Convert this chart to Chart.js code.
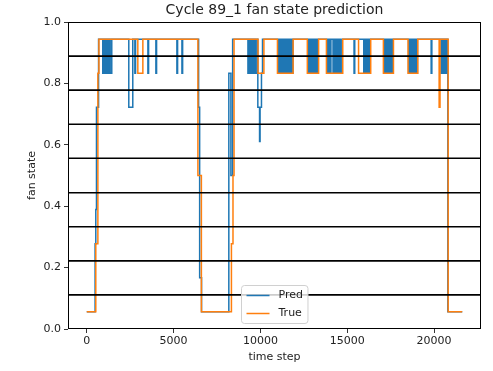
<!DOCTYPE html>
<html>
<head>
<meta charset="utf-8">
<script src="https://cdn.jsdelivr.net/npm/chart.js@4"></script>
<style>
  html, body { margin: 0; padding: 0; background: #fff; }
  #wrap { width: 493px; height: 371px; }
</style>
</head>
<body>
<div id="wrap"><canvas id="fanChart" width="493" height="371"></canvas></div>
<script>
// fan state levels (bin centres)
// [time step, state] -- value changes at that time step
var trueSteps = [
  [0, 0.056], [520, 0.278], [640, 0.833], [700, 0.944],
  [2940, 0.833], [3230, 0.944],
  [6400, 0.5], [6600, 0.056],
  [8330, 0.278], [8420, 0.5], [8480, 0.944],
  [9860, 0.833], [10200, 0.944],
  [10980, 0.833], [11880, 0.944],
  [12700, 0.833], [13350, 0.944],
  [13800, 0.833], [14740, 0.944],
  [15650, 0.833], [16350, 0.944],
  [17080, 0.833], [17660, 0.944],
  [18500, 0.833], [19060, 0.944],
  [20290, 0.722], [20340, 0.944],
  [20810, 0.056], [21620, 0.056]
];

var predSteps = [
  [0, 0.056], [480, 0.278], [520, 0.389], [560, 0.722], [680, 0.944],
  [920, 0.833], [975, 0.944], [1030, 0.833], [1080, 0.944], [1135, 0.833],
  [1190, 0.944], [1240, 0.833], [1295, 0.944], [1350, 0.833], [1440, 0.944],
  [2420, 0.722], [2650, 0.944], [2770, 0.833], [2810, 0.944],
  [3520, 0.833], [3560, 0.944], [3980, 0.833], [4020, 0.944],
  [5190, 0.833], [5230, 0.944], [5480, 0.833], [5520, 0.944],
  [6440, 0.722], [6500, 0.167], [6610, 0.056],
  [8180, 0.833], [8300, 0.5], [8400, 0.944],
  [9280, 0.833], [9335, 0.944], [9390, 0.833], [9440, 0.944], [9495, 0.833],
  [9550, 0.944], [9600, 0.833], [9655, 0.944], [9710, 0.833], [9800, 0.944],
  [9850, 0.722], [9950, 0.611], [9980, 0.722], [10060, 0.833], [10120, 0.944],
  [11010, 0.833], [11065, 0.944], [11120, 0.833], [11170, 0.944], [11225, 0.833],
  [11280, 0.944], [11330, 0.833], [11385, 0.944], [11420, 0.833], [11470, 0.944],
  [11530, 0.833], [11585, 0.944], [11640, 0.833], [11690, 0.944], [11745, 0.833],
  [11800, 0.944], [11830, 0.833], [11870, 0.944],
  [12740, 0.833], [12795, 0.944], [12850, 0.833], [12900, 0.944], [12930, 0.833], [12970, 0.944],
  [13030, 0.833], [13085, 0.944], [13140, 0.833], [13195, 0.944], [13250, 0.833], [13310, 0.944],
  [13830, 0.833], [13885, 0.944], [13940, 0.833], [13995, 0.944], [14030, 0.833], [14060, 0.944],
  [14180, 0.833], [14235, 0.944], [14290, 0.833], [14340, 0.944], [14395, 0.833],
  [14450, 0.944], [14500, 0.833], [14555, 0.944], [14610, 0.833], [14700, 0.944],
  [15390, 0.833], [15430, 0.944],
  [15950, 0.833], [16005, 0.944], [16060, 0.833], [16115, 0.944], [16170, 0.833],
  [16225, 0.944], [16260, 0.833], [16300, 0.944],
  [17120, 0.833], [17175, 0.944], [17230, 0.833], [17285, 0.944], [17340, 0.833],
  [17395, 0.944], [17450, 0.833], [17505, 0.944], [17560, 0.833], [17640, 0.944],
  [18530, 0.833], [18585, 0.944], [18640, 0.833], [18695, 0.944], [18750, 0.833],
  [18805, 0.944], [18860, 0.833], [18915, 0.944], [18970, 0.833], [19040, 0.944],
  [19830, 0.833], [19870, 0.944],
  [20400, 0.833], [20455, 0.944], [20510, 0.833], [20565, 0.944], [20620, 0.833],
  [20675, 0.944], [20710, 0.833], [20760, 0.944],
  [20790, 0.056], [21620, 0.056]
];

// black horizontal lines between states
var thresholds = [0.111, 0.222, 0.333, 0.444, 0.556, 0.667, 0.778, 0.889];

var xTicks = [0, 5000, 10000, 15000, 20000];
var yTicks = [0, 0.2, 0.4, 0.6, 0.8, 1.0];
var xMin = -1080, xMax = 22700;

Chart.defaults.font.family = "'DejaVu Sans', sans-serif";
Chart.defaults.color = '#222';

function toPoints(steps) {
    return steps.map(function (s) { return { x: s[0], y: s[1] }; });
}

var datasets = [];
thresholds.forEach(function (v) {
    datasets.push({
        label: '',
        data: [{ x: xMin, y: v }, { x: xMax, y: v }],
        borderColor: '#000',
        borderWidth: 1.6,
        pointRadius: 0,
        order: 0
    });
});
datasets.push({
    label: 'True',
    data: toPoints(trueSteps),
    borderColor: '#ff7f0e',
    borderWidth: 1.5,
    stepped: 'before',
    pointRadius: 0,
    order: 1
});
datasets.push({
    label: 'Pred',
    data: toPoints(predSteps),
    borderColor: '#1f77b4',
    borderWidth: 1.5,
    stepped: 'before',
    pointRadius: 0,
    order: 2
});

// axes frame + matplotlib-like legend inside the plot (lower centre)
var framePlugin = {
    id: 'frameLegend',
    afterDraw: function (chart) {
        var ctx = chart.ctx, a = chart.chartArea;
        ctx.save();
        ctx.strokeStyle = '#000';
        ctx.lineWidth = 1;
        ctx.strokeRect(Math.round(a.left) + 0.5, Math.round(a.top) + 0.5,
            Math.round(a.right - a.left) - 1, Math.round(a.bottom - a.top) - 1);

        var items = [
            { text: 'Pred', color: '#1f77b4' },
            { text: 'True', color: '#ff7f0e' }
        ];
        ctx.font = '11px "DejaVu Sans"';
        var tw = 0;
        items.forEach(function (it) { tw = Math.max(tw, ctx.measureText(it.text).width); });
        var pad = 5, handle = 23, gap = 9, rowH = 18;
        var w = pad + handle + gap + tw + pad;
        var h = rowH * items.length + 2;
        var cx = (a.left + a.right) / 2;
        var x0 = Math.round(cx - w / 2) + 0.5;
        var y0 = Math.round(a.bottom - 6 - h) + 0.5;
        ctx.beginPath();
        ctx.roundRect(x0, y0, w, h, 3);
        ctx.fillStyle = 'rgba(255,255,255,0.8)';
        ctx.fill();
        ctx.strokeStyle = '#d0d0d0';
        ctx.lineWidth = 1;
        ctx.stroke();
        ctx.textBaseline = 'middle';
        items.forEach(function (it, i) {
            var yy = y0 + 1 + rowH / 2 + i * rowH;
            ctx.beginPath();
            ctx.moveTo(x0 + pad, yy);
            ctx.lineTo(x0 + pad + handle, yy);
            ctx.strokeStyle = it.color;
            ctx.lineWidth = 1.5;
            ctx.stroke();
            ctx.fillStyle = '#222';
            ctx.fillText(it.text, x0 + pad + handle + gap, yy);
        });
        ctx.restore();
    }
};

var myChart = new Chart(document.getElementById('fanChart'), {
    type: 'line',
    data: { datasets: datasets },
    options: {
        responsive: false,
        animation: false,
        events: [],
        layout: { padding: { left: 0, right: 12, top: 0, bottom: 0 } },
        elements: { line: { tension: 0 } },
        plugins: {
            legend: { display: false },
            tooltip: { enabled: false },
            title: {
                display: true,
                fullSize: false,
                text: 'Cycle 89_1 fan state prediction',
                font: { size: 14, weight: 'normal', lineHeight: 1.15 },
                color: '#222',
                padding: { top: 2, bottom: 3.9 }
            }
        },
        scales: {
            x: {
                type: 'linear',
                min: xMin,
                max: xMax,
                afterBuildTicks: function (s) { s.ticks = xTicks.map(function (v) { return { value: v }; }); },
                afterFit: function (s) { s.height = 42; },
                ticks: {
                    font: { size: 11 },
                    padding: 2,
                    maxRotation: 0,
                    autoSkip: false,
                    callback: function (v) { return String(v); }
                },
                grid: { drawOnChartArea: false, drawTicks: true, tickLength: 4, color: '#000', lineWidth: 0.8 },
                border: { display: false },
                title: { display: true, text: 'time step', font: { size: 11 }, padding: { top: 0, bottom: 7 } }
            },
            y: {
                min: 0,
                max: 1,
                afterBuildTicks: function (s) { s.ticks = yTicks.map(function (v) { return { value: v }; }); },
                afterFit: function (s) { s.width = 68; },
                ticks: {
                    font: { size: 11 },
                    padding: 3,
                    callback: function (v) { return Number(v).toFixed(1); }
                },
                grid: { drawOnChartArea: false, drawTicks: true, tickLength: 4, color: '#000', lineWidth: 0.8 },
                border: { display: false },
                title: { display: true, text: 'fan state', font: { size: 11 }, padding: { top: 26, bottom: 0 } }
            }
        }
    },
    plugins: [framePlugin]
});
</script>
</body>
</html>
